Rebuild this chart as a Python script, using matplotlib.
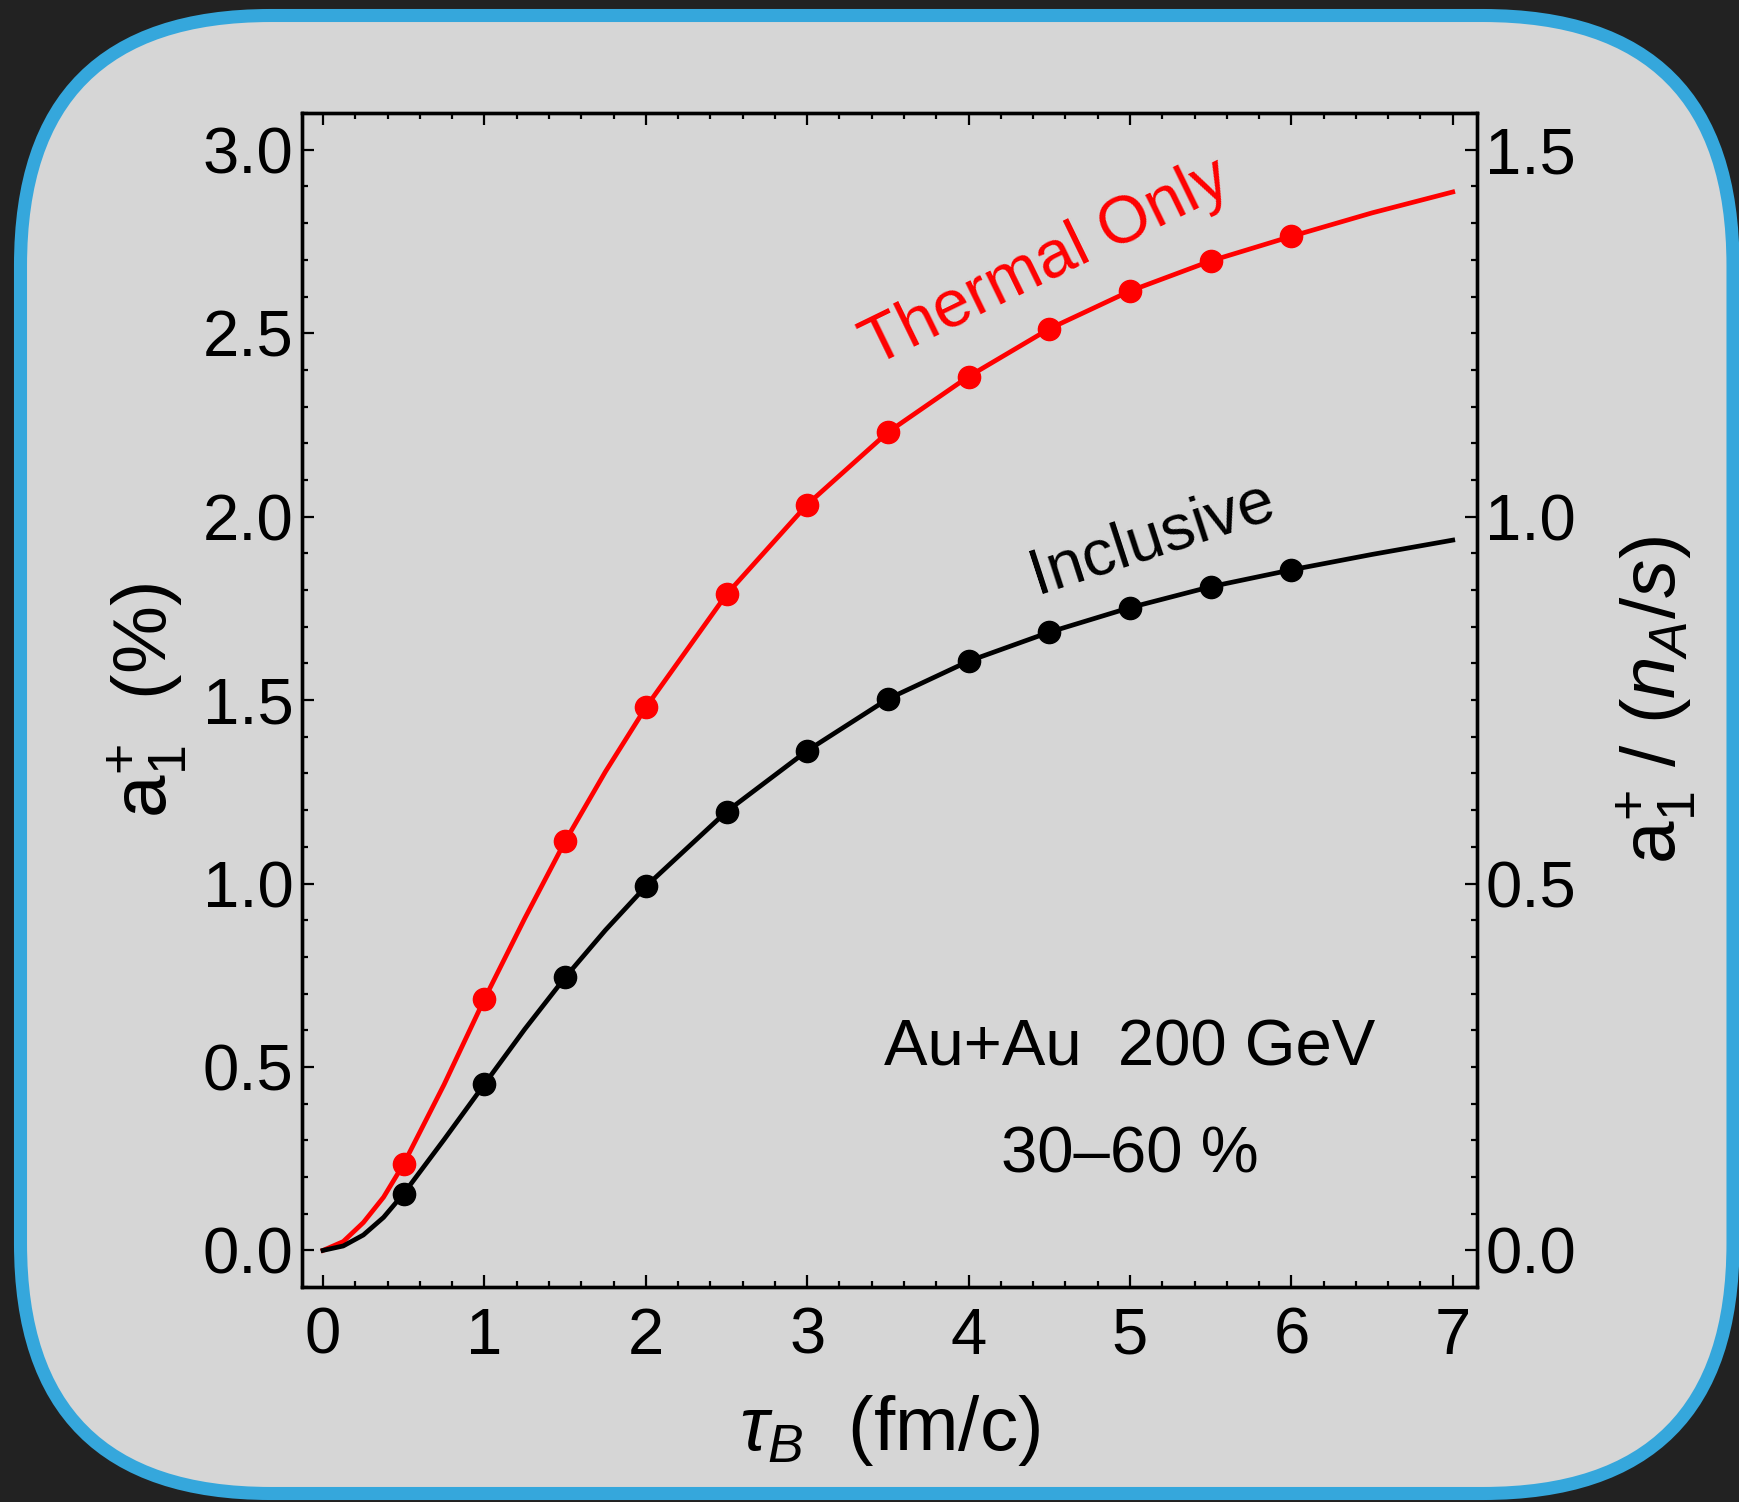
import matplotlib
matplotlib.use("Agg")
import matplotlib.pyplot as plt
from matplotlib.patches import FancyBboxPatch
from matplotlib.ticker import MultipleLocator
import matplotlib.transforms as mtransforms

plt.rcParams['font.family'] = ['Liberation Sans', 'DejaVu Sans']
plt.rcParams['mathtext.fontset'] = 'custom'
plt.rcParams['mathtext.rm'] = 'Liberation Sans'
plt.rcParams['mathtext.it'] = 'Liberation Sans:italic'
plt.rcParams['mathtext.bf'] = 'Liberation Sans:bold'

# markers
tau_pts = [0.5, 1.0, 1.5, 2.0, 2.5, 3.0, 3.5, 4.0, 4.5, 5.0, 5.5, 6.0]
thermal_pts = [0.236, 0.685, 1.115, 1.480, 1.788, 2.033, 2.230, 2.382, 2.512, 2.615, 2.697, 2.764]
inclusive_pts = [0.155, 0.453, 0.744, 0.992, 1.196, 1.362, 1.503, 1.606, 1.685, 1.752, 1.809, 1.855]

# curve samples
tau_curve = [0.0, 0.125, 0.25, 0.375, 0.5, 0.75, 1.0, 1.25, 1.5, 1.75, 2.0, 2.5, 3.0,
             3.5, 4.0, 4.5, 5.0, 5.5, 6.0, 6.5, 7.0]
thermal_curve = [0.0, 0.024, 0.076, 0.145, 0.236, 0.452, 0.685, 0.905, 1.115, 1.305, 1.480,
                 1.788, 2.033, 2.230, 2.382, 2.512, 2.615, 2.697, 2.764, 2.828, 2.885]
inclusive_curve = [0.0, 0.012, 0.042, 0.090, 0.155, 0.302, 0.453, 0.603, 0.744, 0.873, 0.992,
                   1.196, 1.362, 1.503, 1.606, 1.685, 1.752, 1.809, 1.855, 1.897, 1.936]

x_ticks = [0, 1, 2, 3, 4, 5, 6, 7]
y_ticks = [0.0, 0.5, 1.0, 1.5, 2.0, 2.5, 3.0]
y2_ticks = [0.0, 0.5, 1.0, 1.5]

fig = plt.figure(figsize=(17.39, 15.02), dpi=100, facecolor='#222222')

# rounded panel behind the plot (pixel coordinates)
panel = FancyBboxPatch((20.5, 8.5), 1712.5, 1478,
                       boxstyle='round,pad=0,rounding_size=250',
                       facecolor='#d6d6d6', edgecolor='#35a7dc', linewidth=9.4,
                       transform=mtransforms.IdentityTransform(), zorder=0)
fig.add_artist(panel)

ax = fig.add_axes([0.1737, 0.1431, 0.6756, 0.7816])
ax.set_facecolor('none')

ax.plot(tau_curve, thermal_curve, color='#ff0000', lw=3.4, zorder=3,
        solid_joinstyle='round')
ax.plot(tau_curve, inclusive_curve, color='black', lw=3.4, zorder=3,
        solid_joinstyle='round')
ax.plot(tau_pts, thermal_pts, 'o', color='#ff0000', ms=16, zorder=4)
ax.plot(tau_pts, inclusive_pts, 'o', color='black', ms=16, zorder=4)

ax.set_xlim(-0.13, 7.15)
ax.set_ylim(-0.10, 3.10)
ax.set_xticks(x_ticks)
ax.set_yticks(y_ticks)
ax.set_yticklabels([f'{v:.1f}' for v in y_ticks])
ax.xaxis.set_minor_locator(MultipleLocator(0.2))
ax.yaxis.set_minor_locator(MultipleLocator(0.1))
ax.tick_params(which='both', direction='in', top=True, right=False, width=1.6,
               labelsize=47, colors='black')
ax.tick_params(which='major', length=8.5)
ax.tick_params(which='minor', length=4.5)
ax.tick_params(axis='x', pad=14)
ax.tick_params(axis='y', pad=6)
for s in ax.spines.values():
    s.set_linewidth(2.4)

ax2 = ax.twinx()
ax2.set_ylim(-0.05, 1.55)
ax2.set_yticks(y2_ticks)
ax2.set_yticklabels([f'{v:.1f}' for v in y2_ticks])
ax2.yaxis.set_minor_locator(MultipleLocator(0.05))
ax2.tick_params(which='both', direction='in', width=1.6, labelsize=47, pad=6)
ax2.tick_params(which='major', length=8.5)
ax2.tick_params(which='minor', length=4.5)
for s in ax2.spines.values():
    s.set_linewidth(2.4)

ax.text(-0.132, 0.5, r'$\mathrm{a}_{1}^{+}$  (%)', transform=ax.transAxes,
        rotation=90, ha='center', va='center', fontsize=55)
ax.text(1.153, 0.5, r'$\mathrm{a}_{1}^{+}$ / ($n_A$/$s$)', transform=ax.transAxes,
        rotation=90, ha='center', va='center', fontsize=55)
ax.text(0.5, -0.122, r'$\tau_B$  (fm/c)', transform=ax.transAxes,
        ha='center', va='center', fontsize=55)

ax.text(4.48, 2.69, 'Thermal Only', color='#ff0000', rotation=26,
        ha='center', va='center', fontsize=48)
ax.text(5.14, 1.94, 'Inclusive', color='black', rotation=18,
        ha='center', va='center', fontsize=47)
ax.text(5.0, 0.505, 'Au+Au  200 GeV', ha='center', va='baseline', fontsize=47)
ax.text(5.0, 0.213, '30\u201360 %', ha='center', va='baseline', fontsize=47)

fig.savefig('out.png', dpi=100, facecolor=fig.get_facecolor())
